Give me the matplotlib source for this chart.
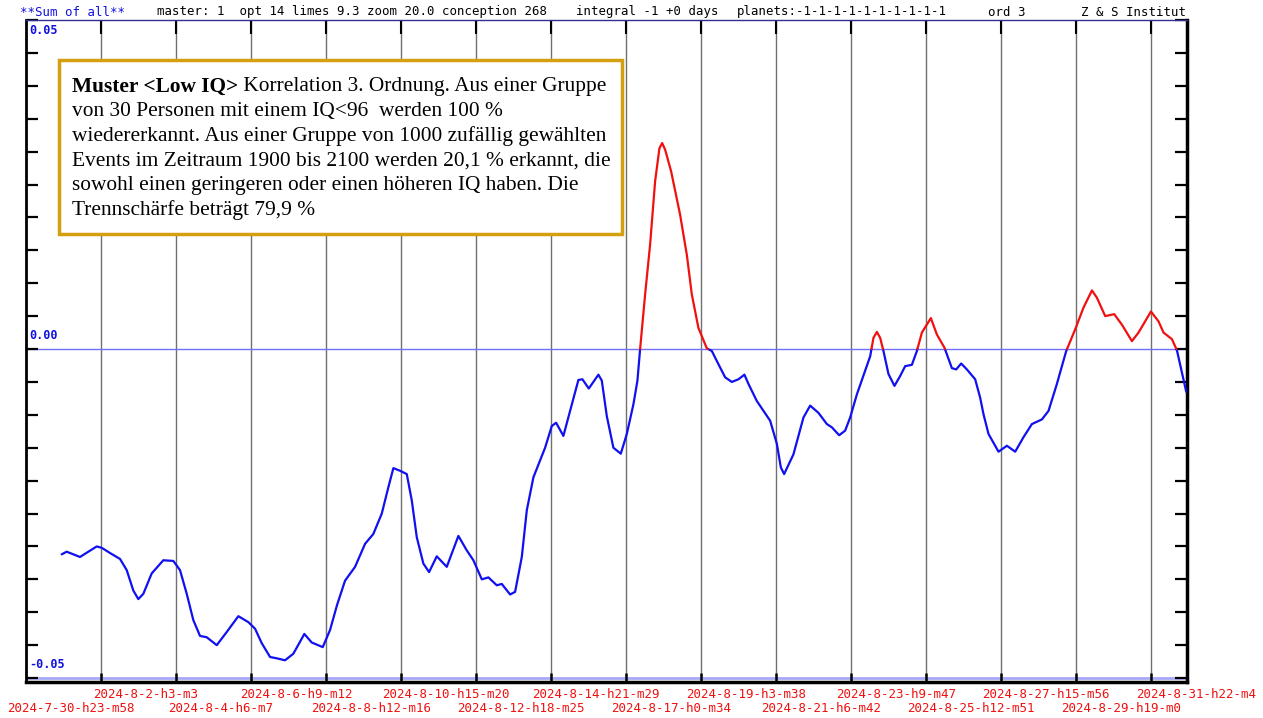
import numpy as np
import matplotlib
matplotlib.use("Agg")
import matplotlib.pyplot as plt
from matplotlib.transforms import blended_transform_factory
from matplotlib.patches import Rectangle
from datetime import datetime

# ---------------- data ----------------
# time in days after 2024-07-30 23:58
days = [-0.264, -0.122, 0.255, 0.729, 0.871, 1.107, 1.391, 1.581, 1.768, 1.910,
        2.052, 2.290, 2.619, 2.903, 3.093, 3.284, 3.471, 3.661, 3.851, 4.135,
        4.419, 4.748, 5.032, 5.222, 5.412, 5.648, 5.838, 6.073, 6.309, 6.621,
        6.831, 7.143, 7.350, 7.549, 7.776, 8.060, 8.344, 8.579, 8.818, 9.005,
        9.147, 9.337, 9.527, 9.669, 9.811, 9.998, 10.160, 10.378, 10.662, 10.992,
        11.230, 11.417, 11.656, 11.843, 12.081, 12.223, 12.459, 12.601, 12.791, 12.933,
        13.120, 13.452, 13.642, 13.764, 13.971, 14.162, 14.397, 14.511, 14.692, 14.965,
        15.061, 15.203, 15.390, 15.600, 15.771, 15.958, 16.072, 16.148, 16.290, 16.432,
        16.574, 16.696, 16.773, 16.858, 17.028, 17.283, 17.474, 17.615, 17.803, 18.041,
        18.183, 18.370, 18.561, 18.751, 18.938, 19.108, 19.222, 19.460, 19.838, 20.028,
        20.141, 20.235, 20.499, 20.783, 20.973, 21.208, 21.447, 21.589, 21.796, 21.966,
        22.108, 22.298, 22.534, 22.676, 22.769, 22.866, 22.959, 23.053, 23.195, 23.365,
        23.527, 23.669, 23.859, 24.001, 24.143, 24.398, 24.569, 24.784, 24.994, 25.116,
        25.258, 25.420, 25.655, 25.797, 25.891, 26.033, 26.317, 26.555, 26.791, 27.026,
        27.265, 27.548, 27.736, 27.974, 28.238, 28.494, 28.729, 28.968, 29.109, 29.345,
        29.600, 29.819, 30.103, 30.290, 30.642, 30.858, 30.999, 31.238, 31.380, 31.644]

# values in units of 0.001
values_milli = [-31.2, -30.8, -31.6, -30.0, -30.2, -31.0, -31.9, -33.6, -36.7, -38.0,
                -37.2, -34.1, -32.1, -32.2, -33.6, -37.2, -41.2, -43.6, -43.8, -45.0,
                -43.0, -40.6, -41.5, -42.5, -44.7, -46.8, -47.0, -47.3, -46.3, -43.3,
                -44.6, -45.3, -42.7, -38.9, -35.2, -33.1, -29.6, -28.1, -25.0, -21.0,
                -18.1, -18.5, -19.0, -23.0, -28.6, -32.6, -33.9, -31.5, -33.1, -28.4,
                -30.6, -32.1, -35.0, -34.7, -35.9, -35.7, -37.3, -36.9, -31.6, -24.5,
                -19.5, -15.0, -11.7, -11.2, -13.2, -9.4, -4.7, -4.6, -6.0, -3.9,
                -4.8, -10.2, -15.0, -15.9, -12.9, -8.4, -4.8, 0.0, 8.3, 15.9,
                25.5, 30.5, 31.3, 30.3, 27.0, 20.4, 14.3, 8.3, 3.2, 0.1,
                -0.3, -2.3, -4.3, -5.0, -4.6, -3.9, -5.3, -7.9, -10.9, -14.4,
                -18.0, -19.0, -16.0, -10.4, -8.6, -9.7, -11.4, -11.9, -13.1, -12.4,
                -10.4, -6.9, -3.3, -1.1, 1.7, 2.6, 1.7, -0.3, -3.8, -5.6,
                -4.1, -2.6, -2.4, -0.3, 2.5, 4.7, 2.2, 0.2, -2.9, -3.1,
                -2.2, -3.1, -4.6, -7.4, -9.9, -12.9, -15.6, -14.7, -15.6, -13.4,
                -11.4, -10.7, -9.4, -5.3, -0.3, 3.0, 6.3, 8.9, 7.8, 5.0,
                5.3, 3.7, 1.2, 2.5, 5.7, 4.2, 2.5, 1.5, -0.2, -6.5]

tick_labels = ["2024-7-30-h23-m58", "2024-8-2-h3-m3", "2024-8-4-h6-m7", "2024-8-6-h9-m12",
               "2024-8-8-h12-m16", "2024-8-10-h15-m20", "2024-8-12-h18-m25", "2024-8-14-h21-m29",
               "2024-8-17-h0-m34", "2024-8-19-h3-m38", "2024-8-21-h6-m42", "2024-8-23-h9-m47",
               "2024-8-25-h12-m51", "2024-8-27-h15-m56", "2024-8-29-h19-m0", "2024-8-31-h22-m4"]

y_labels = ["0.05", "0.00", "-0.05"]
y_label_values = [0.05, 0.0, -0.05]

header_parts = [("**Sum of all**", "#1010e0"),
                ("master: 1  opt 14 limes 9.3 zoom 20.0 conception 268", "black"),
                ("integral -1 +0 days", "black"),
                ("planets:-1-1-1-1-1-1-1-1-1-1", "black"),
                ("ord 3", "black"),
                ("Z & S Institut", "black")]

box_bold = "Muster <Low IQ>"
box_first_rest = " Korrelation 3. Ordnung. Aus einer Gruppe"
box_lines = ["von 30 Personen mit einem IQ<96  werden 100 %",
             "wiedererkannt. Aus einer Gruppe von 1000 zufällig gewählten",
             "Events im Zeitraum 1900 bis 2100 werden 20,1 % erkannt, die",
             "sowohl einen geringeren oder einen höheren IQ haben. Die",
             "Trennschärfe beträgt 79,9 %"]

# ---------------- figure ----------------
W, H = 1263, 718
fig = plt.figure(figsize=(W / 100, H / 100), dpi=100)
fig.patch.set_facecolor("white")
L, R, T, B = 26, 1187, 20, 682
ax = fig.add_axes([L / W, 1 - B / H, (R - L) / W, (B - T) / H])

x = np.array(days)
v = np.array(values_milli) / 1000.0

def t_of(lbl):
    p = lbl.split("-")
    return datetime(int(p[0]), int(p[1]), int(p[2]), int(p[3][1:]), int(p[4][1:]))

t0 = t_of(tick_labels[0])
tick_days = np.array([(t_of(s) - t0).total_seconds() / 86400 for s in tick_labels])
step = np.mean(np.diff(tick_days))

ax.set_xlim(tick_days[0] - 0.6 * step, tick_days[0] + 14.88 * step)
ax.set_ylim(-0.0506, 0.0497)

# vertical grid lines
grid_pos = tick_days[:-1] + 0.4 * np.diff(tick_days)
for g in grid_pos:
    ax.axvline(g, color="#707070", lw=1.0, zorder=1)
# black tick marks at top and bottom of each grid line
gtr = blended_transform_factory(ax.transData, ax.transAxes)
ax.vlines(grid_pos, 0, 9 / 662, transform=gtr, color="black", lw=1.8, zorder=2)
ax.vlines(grid_pos, 1 - 14 / 662, 1, transform=gtr, color="black", lw=1.5, zorder=2)

# horizontal reference lines
ax.axhline(0.0, color="#7070ff", lw=1.0, zorder=1)
ax.axhline(-0.05, color="#a8a8f8", lw=2.0, zorder=1)

# curve: split into positive (red) and negative (blue) parts
xs, vs = [x[0]], [v[0]]
for i in range(1, len(x)):
    if (v[i - 1] > 0 and v[i] < 0) or (v[i - 1] < 0 and v[i] > 0):
        f = v[i - 1] / (v[i - 1] - v[i])
        xs.append(x[i - 1] + f * (x[i] - x[i - 1]))
        vs.append(0.0)
    xs.append(x[i]); vs.append(v[i])
xs = np.array(xs); vs = np.array(vs)
ax.plot(xs, np.where(vs <= 0, vs, np.nan), color="#1010f0", lw=1.6, zorder=3,
        solid_joinstyle="round", solid_capstyle="round")
ax.plot(xs, np.where(vs >= 0, vs, np.nan), color="#f01010", lw=1.6, zorder=3,
        solid_joinstyle="round", solid_capstyle="round")

# spines
ax.spines["left"].set_linewidth(2.0)
ax.spines["bottom"].set_linewidth(2.5)
ax.spines["right"].set_linewidth(2.5)
ax.spines["top"].set_linewidth(1.0)
ax.spines["top"].set_color("#303090")

# y ticks (both sides, inward)
ax.set_yticks(np.arange(-0.05, 0.0501, 0.005))
ax.tick_params(axis="y", which="both", direction="in", left=True, right=True,
               labelleft=False, labelright=False, length=8.5, width=1.6, color="black")
ax.set_xticks([])

# y labels inside the axes
ytr = blended_transform_factory(fig.transFigure, ax.transData)
for lab, val in zip(y_labels, y_label_values):
    if val > 0.04:
        fig.text(29 / W, 1 - 31 / H, lab, color="#1010e0", fontsize=8.5,
                 family="DejaVu Sans Mono", fontweight="bold", va="center", ha="left")
    else:
        ax.text(29 / W, val + 0.0010, lab, transform=ytr, color="#1010e0", fontsize=8.5,
                family="DejaVu Sans Mono", fontweight="bold", va="bottom", ha="left")

# x labels (alternating rows)
xtr = blended_transform_factory(ax.transData, fig.transFigure)
for i, (td, lab) in enumerate(zip(tick_days, tick_labels)):
    ypix = 708 if i % 2 == 0 else 694
    ax.text(td, 1 - ypix / H, lab, transform=xtr, color="#f01010", fontsize=9,
            family="DejaVu Sans Mono", ha="center", va="center", clip_on=False)

# header
header_x = [20, 157, 576, 737, 988, 1081]
for (txt, col), hx in zip(header_parts, header_x):
    fig.text(hx / W, 1 - 12 / H, txt, color=col, fontsize=8.9,
             family="DejaVu Sans Mono", ha="left", va="center")

# text box
fig.patches.append(Rectangle((59 / W, 1 - 234 / H), (622 - 59) / W, (234 - 60) / H,
                             transform=fig.transFigure, facecolor="white",
                             edgecolor="#d4a010", lw=2.5, zorder=5))
serif = ["Liberation Serif", "DejaVu Serif"]
fs = 15.4
y0 = 87
lh = 24.6
tb = fig.text(72 / W, 1 - y0 / H, box_bold, fontsize=fs, family=serif, fontweight="bold",
              ha="left", va="center", zorder=6)
fig.canvas.draw()
bb = tb.get_window_extent(renderer=fig.canvas.get_renderer())
fig.text(bb.x1 / W, 1 - y0 / H, box_first_rest, fontsize=fs, family=serif,
         ha="left", va="center", zorder=6)
for k, line in enumerate(box_lines):
    fig.text(72 / W, 1 - (y0 + lh * (k + 1)) / H, line, fontsize=fs, family=serif,
             ha="left", va="center", zorder=6)

fig.savefig("out.png", dpi=100)
